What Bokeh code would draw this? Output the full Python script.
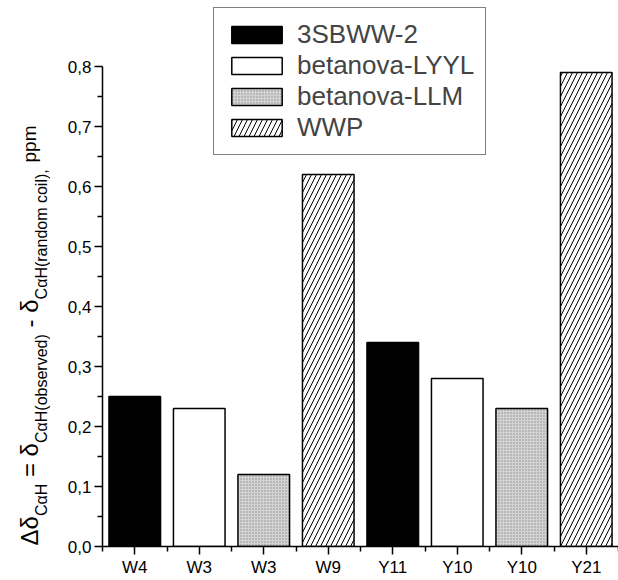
import math, glob
from bokeh.plotting import figure
from bokeh.layouts import row
from bokeh.models import (FixedTicker, CustomJSTickFormatter, Legend, LegendItem)
from bokeh.core.properties import value
from bokeh.embed import file_html
from bokeh.resources import INLINE

# ---------------- data ----------------
categories = ["W4", "W3", "W3", "W9", "Y11", "Y10", "Y10", "Y21"]
values = [0.25, 0.23, 0.12, 0.62, 0.34, 0.28, 0.23, 0.79]
series_names = ["3SBWW-2", "betanova-LYYL", "betanova-LLM", "WWP"]
bar_series = [0, 1, 2, 3, 0, 1, 2, 3]
y_ticks = [0.0, 0.1, 0.2, 0.3, 0.4, 0.5, 0.6, 0.7, 0.8]
y_minor = [0.05, 0.15, 0.25, 0.35, 0.45, 0.55, 0.65, 0.75]

FONT = "Liberation Sans"

styles = [
    dict(fill_color="black"),
    dict(fill_color="white"),
    dict(fill_color="#d4d4d4", hatch_pattern="dot", hatch_color="#8a8a8a", hatch_scale=3, hatch_weight=1),
    dict(fill_color="white", hatch_pattern="right_diagonal_line", hatch_color="black", hatch_scale=10, hatch_weight=1),
]

# page layout (the Bokeh page template has no body margin)
H = 580
LW = 50                      # side panel for the y-axis title
W = 618 - LW
FRAME_LEFT = 102
MB_LEFT, MB_BOTTOM, MB_TOP = FRAME_LEFT - LW, 34, 0
frame_top = MB_TOP
frame_bottom = H - MB_BOTTOM
y_end = 0.8 * (frame_bottom - frame_top) / (frame_bottom - 66)

p = figure(width=W, height=H, output_backend="svg", toolbar_location=None,
           x_range=(0.5, len(categories) + 0.5), y_range=(0, y_end),
           min_border_left=MB_LEFT, min_border_right=0, min_border_top=MB_TOP,
           min_border_bottom=MB_BOTTOM)
p.outline_line_color = None
p.xgrid.visible = False
p.ygrid.visible = False

renderers = []
for s, name in enumerate(series_names):
    xs = [i + 1 for i, b in enumerate(bar_series) if b == s]
    ys = [values[i] for i, b in enumerate(bar_series) if b == s]
    r = p.vbar(x=xs, top=ys, bottom=0, width=0.8, line_color="black", line_width=1.5, **styles[s])
    renderers.append(r)

# axes
xa = p.xaxis[0]
xa.ticker = FixedTicker(ticks=list(range(1, len(categories) + 1)),
                        minor_ticks=[i + 0.5 for i in range(0, len(categories) + 1)])
xa.major_label_overrides = {i + 1: c for i, c in enumerate(categories)}
xa.bounds = (0.5, len(categories) + 0.5)
ya = p.yaxis[0]
ya.ticker = FixedTicker(ticks=y_ticks, minor_ticks=y_minor)
ya.formatter = CustomJSTickFormatter(code="return tick.toFixed(1).replace('.', ',');")
ya.bounds = (0, 0.8)
for ax in (xa, ya):
    ax.axis_label = None
    ax.axis_label_standoff = 0
    ax.axis_line_width = 1.5
    ax.axis_line_color = "black"
    ax.major_tick_line_width = 1.5
    ax.minor_tick_line_width = 1.5
    ax.major_tick_out = 8
    ax.major_tick_in = 0
    ax.minor_tick_out = 5
    ax.minor_tick_in = 0
    ax.major_label_text_font = FONT
    ax.major_label_text_font_size = "17px"
    ax.major_label_text_color = "black"
    ax.major_label_standoff = 3

# legend
legend = Legend(items=[LegendItem(label=n, renderers=[r]) for n, r in zip(series_names, renderers)],
                location=(213 - FRAME_LEFT, frame_bottom - 155),
                border_line_color="black", border_line_width=1.5,
                background_fill_color="white", background_fill_alpha=1.0,
                label_text_font=FONT, label_text_font_size="26px",
                glyph_width=63, glyph_height=21, label_height=21,
                label_standoff=9, spacing=0, padding=11, margin=0)
p.add_layout(legend, "center")

# ---------------- y-axis title (with subscripts) in a side panel ----------------
ARIAL = {"Δ": 668, "δ": 556, "α": 578, "C": 722, "H": 722, "(": 333, ")": 333, " ": 278,
         "=": 584, "-": 333, ",": 278, "o": 556, "b": 556, "s": 500, "e": 556, "r": 333,
         "v": 500, "d": 556, "a": 556, "n": 556, "m": 833, "c": 500, "i": 222, "l": 222, "p": 556}

_font_path = None
try:
    from PIL import ImageFont
    cands = (glob.glob("/usr/share/fonts/**/LiberationSans-Regular.ttf", recursive=True)
             + glob.glob("/usr/local/share/fonts/**/LiberationSans-Regular.ttf", recursive=True))
    if cands:
        _font_path = cands[0]
except Exception:
    _font_path = None

def tw(t, size):
    if _font_path is not None:
        try:
            return ImageFont.truetype(_font_path, size).getlength(t)
        except Exception:
            pass
    return sum(ARIAL.get(ch, 556) for ch in t) * size / 1000.0

M, S, P = 24, 16, 19
BASE_MAIN, BASE_SUB = 29, 41
pieces = [("Δδ", M, BASE_MAIN, 0), ("CαH", S, BASE_SUB, 1),
          ("=", M, BASE_MAIN, 1), ("δ", M, BASE_MAIN, 0), ("CαH(observed)", S, BASE_SUB, 1),
          ("-", M, BASE_MAIN, 1), ("δ", M, BASE_MAIN, 0), ("CαH(random coil),", S, BASE_SUB, 1),
          ("ppm", P, BASE_MAIN, 0)]
lx, ly, lt, ls = [], [], [], []
ypos = frame_bottom - 1
for text, size, base, gap_after in pieces:
    lx.append(base)
    ly.append(-ypos)
    lt.append(text)
    ls.append(f"{size}px")
    ypos -= tw(text, size)
    if gap_after:
        ypos -= tw(" ", M)

lab = figure(width=LW, height=H, output_backend="svg", toolbar_location=None,
             x_range=(0, LW), y_range=(-frame_bottom, -frame_top),
             x_axis_location=None, y_axis_location=None,
             min_border_left=0, min_border_right=0, min_border_top=MB_TOP,
             min_border_bottom=MB_BOTTOM)
lab.outline_line_color = None
lab.grid.visible = False
lab.text(x=lx, y=ly, text=lt, text_font_size=ls, angle=math.pi / 2,
         text_align="left", text_baseline="alphabetic", text_color="black",
         text_font=value(FONT))

layout = row(lab, p)
open("out.html", "w").write(file_html(layout, INLINE))
